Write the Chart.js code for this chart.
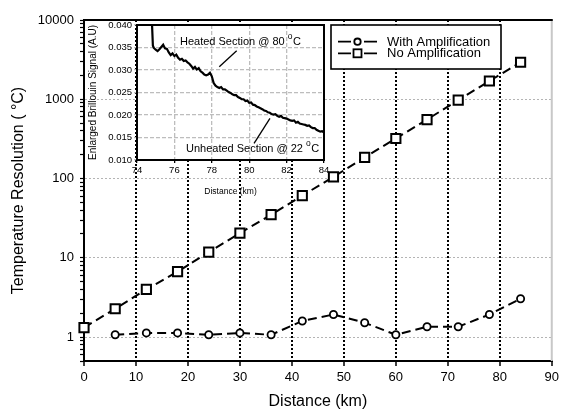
<!DOCTYPE html>
<html><head><meta charset="utf-8">
<script src="https://cdn.jsdelivr.net/npm/chart.js@4.4.0/dist/chart.umd.min.js"></script>
<style>
html,body{margin:0;padding:0;background:#fff;}
#wrap{position:relative;width:563px;height:411px;overflow:hidden;}
#wrap canvas{position:absolute;left:0;top:0;}
</style></head><body>
<div id="wrap"><canvas id="main" width="563" height="411"></canvas><canvas id="inset" width="563" height="411"></canvas></div>
<script>
// ---------------- data ----------------
const distanceKm = [0, 6, 12, 18, 24, 30, 36, 42, 48, 54, 60, 66, 72, 78, 84];
const noAmplification = [1.32, 2.28, 4.0, 6.7, 11.8, 20.5, 35, 61, 105, 185, 320, 555, 975, 1700, 2930];
const withAmpDistanceKm = [6, 12, 18, 24, 30, 36, 42, 48, 54, 60, 66, 72, 78, 84];
const withAmplification = [1.07, 1.13, 1.13, 1.07, 1.13, 1.07, 1.6, 1.93, 1.52, 1.07, 1.35, 1.35, 1.93, 3.05];
const seriesLabels = ['With Amplification', 'No Amplification'];
const xTickValues = [0, 10, 20, 30, 40, 50, 60, 70, 80, 90];
const yMajorTicks = [1, 10, 100, 1000, 10000];

const insetDistanceKm = [74.78, 74.85, 74.9, 75.0, 75.1, 75.2, 75.3, 75.4, 75.5, 75.6, 75.7, 75.8, 75.9,
  76.0, 76.1, 76.2, 76.3, 76.4, 76.5, 76.6, 76.7, 76.8, 76.9,
  77.0, 77.1, 77.2, 77.3, 77.4, 77.5, 77.6, 77.7, 77.8, 77.9,
  78.0, 78.1, 78.2, 78.3, 78.4, 78.5, 78.6, 78.7, 78.8, 78.9,
  79.0, 79.1, 79.2, 79.3, 79.4, 79.5, 79.6, 79.7, 79.8, 79.9,
  80.0, 80.1, 80.2, 80.3, 80.4, 80.5, 80.6, 80.7, 80.8, 80.9,
  81.0, 81.1, 81.2, 81.3, 81.4, 81.5, 81.6, 81.7, 81.8, 81.9,
  82.0, 82.1, 82.2, 82.3, 82.4, 82.5, 82.6, 82.7, 82.8, 82.9,
  83.0, 83.1, 83.2, 83.3, 83.4, 83.5, 83.6, 83.7, 83.8, 83.9, 84.0];
const insetSignal = [0.0425, 0.0354, 0.0349, 0.0345, 0.0342, 0.0346, 0.0351, 0.0356, 0.0348, 0.0347, 0.0339, 0.0333, 0.0337,
  0.0331, 0.0334, 0.0327, 0.0323, 0.0325, 0.0320, 0.0321, 0.0317, 0.0314, 0.0309,
  0.0303, 0.0307, 0.0301, 0.0304, 0.0297, 0.0294, 0.0290, 0.0288, 0.0290, 0.0294,
  0.0286, 0.0271, 0.0265, 0.0262, 0.0260, 0.0262, 0.0257, 0.0257, 0.0254, 0.0251,
  0.0249, 0.0246, 0.0244, 0.0244, 0.0240, 0.0238, 0.0235, 0.0235, 0.0231, 0.0232,
  0.0227, 0.0228, 0.0223, 0.0222, 0.0219, 0.0217, 0.0215, 0.0213, 0.0210, 0.0209,
  0.0206, 0.0205, 0.0202, 0.0201, 0.0202, 0.0198, 0.0196, 0.0198, 0.0194, 0.0193,
  0.0192, 0.0190, 0.0188, 0.0187, 0.0188, 0.0183, 0.0185, 0.0181, 0.0180, 0.0179,
  0.0178, 0.0176, 0.0177, 0.0173, 0.0171, 0.0171, 0.0167, 0.0165, 0.0163, 0.0164, 0.0161];
const insetXTicks = [74, 76, 78, 80, 82, 84];
const insetYTicks = [0.010, 0.015, 0.020, 0.025, 0.030, 0.035, 0.040];
const insetNotes = [
  {text: 'Heated Section @ 80 ', sup: 'o', tail: 'C', x: 76.3, y: 0.0362, line: [79.33, 0.0343, 78.4, 0.0307]},
  {text: 'Unheated Section @ 22 ', sup: 'o', tail: 'C', x: 76.62, y: 0.01244, line: [81.11, 0.01927, 80.26, 0.01371]}
];

// ---------------- styling ----------------
const FONT = "'Liberation Sans', Arial, Helvetica, sans-serif";
Chart.defaults.font.family = FONT;
Chart.defaults.color = '#000';

const logMinorTicks = [];
[0.1, 1, 10, 100, 1000].forEach(d => { for (let m = 1; m <= 9; m++) { const v = +(d * m).toPrecision(3); if (v >= 0.5 && v <= 10000) logMinorTicks.push(v); } });
logMinorTicks.push(10000);

const frameMain = {
  id: 'frameMain',
  afterDraw(chart) {
    const {ctx, chartArea: a} = chart;
    ctx.save();
    ctx.strokeStyle = '#c8c8c8'; ctx.lineWidth = 2;
    ctx.beginPath(); ctx.moveTo(a.right, a.top); ctx.lineTo(a.right, a.bottom); ctx.stroke();
    ctx.strokeStyle = '#000'; ctx.lineWidth = 2;
    ctx.beginPath(); ctx.moveTo(a.left - 1, a.top); ctx.lineTo(a.right + 1, a.top); ctx.stroke();
    // legend
    const bx = 331, by = 25, bw = 170, bh = 44;
    ctx.fillStyle = '#fff'; ctx.fillRect(bx, by, bw, bh);
    ctx.lineWidth = 1.6; ctx.strokeRect(bx, by, bw, bh);
    ctx.font = '13px ' + FONT; ctx.textBaseline = 'middle'; ctx.textAlign = 'left'; ctx.fillStyle = '#000';
    chart.data.datasets.forEach((ds, i) => {
      const y = 41.7 + i * 11.6;
      ctx.lineWidth = 1.8; ctx.strokeStyle = '#000';
      ctx.beginPath(); ctx.moveTo(338, y); ctx.lineTo(351, y); ctx.moveTo(364, y); ctx.lineTo(377, y); ctx.stroke();
      ctx.fillStyle = '#fff';
      if (ds.pointStyle === 'rect') {
        ctx.fillRect(353.5, y - 4, 8, 8); ctx.strokeRect(353.5, y - 4, 8, 8);
      } else {
        ctx.beginPath(); ctx.arc(357.5, y, 3.2, 0, Math.PI * 2); ctx.fill(); ctx.stroke();
      }
      ctx.fillStyle = '#000';
      ctx.fillText(ds.label, 387, y + 0.5);
    });
    ctx.restore();
  }
};

new Chart(document.getElementById('main'), {
  type: 'line',
  data: {
    datasets: [
      {label: seriesLabels[0], data: withAmpDistanceKm.map((x, i) => ({x, y: withAmplification[i]})),
       borderColor: '#000', borderWidth: 2, borderDash: [9, 5], pointStyle: 'circle', pointRadius: 3.6,
       pointBorderWidth: 1.8, pointBackgroundColor: '#fff', pointBorderColor: '#000', tension: 0, clip: false},
      {label: seriesLabels[1], data: distanceKm.map((x, i) => ({x, y: noAmplification[i]})),
       borderColor: '#000', borderWidth: 2, borderDash: [9, 5], pointStyle: 'rect', pointRadius: 6.5,
       pointBorderWidth: 2, pointBackgroundColor: '#fff', pointBorderColor: '#000', tension: 0, clip: false}
    ]
  },
  options: {
    responsive: false, animation: false, devicePixelRatio: 1,
    layout: {padding: {left: 0, top: 20, right: 7, bottom: 0}},
    plugins: {legend: {display: false}, tooltip: {enabled: false}},
    scales: {
      x: {
        type: 'linear', min: 0, max: 90,
        afterBuildTicks: s => { s.ticks = xTickValues.map(v => ({value: v})); },
        afterFit: s => { s.height = 50; },
        ticks: {font: {size: 13}, padding: 4, maxRotation: 0, autoSkip: false, color: '#000'},
        grid: {color: c => (c.tick && c.tick.value > 0 && c.tick.value < 90) ? '#000' : 'rgba(0,0,0,0)',
               lineWidth: 2, tickColor: '#000', tickLength: 5, tickWidth: 1.5, tickBorderDash: []},
        border: {color: '#000', width: 2, dash: [2, 2]},
        title: {display: true, text: 'Distance (km)', font: {size: 16}, padding: {top: 0, bottom: 0}, color: '#000'}
      },
      y: {
        type: 'logarithmic', min: 0.5, max: 10000,
        afterBuildTicks: s => { s.ticks = logMinorTicks.map(v => ({value: v, major: yMajorTicks.includes(v)})); },
        afterFit: s => { s.width = 84; },
        ticks: {font: {size: 13}, padding: 6, autoSkip: false, color: '#000',
                callback: v => yMajorTicks.includes(v) ? String(v) : ''},
        grid: {color: c => (c.tick && yMajorTicks.includes(c.tick.value)) ? '#b4b4b4' : 'rgba(0,0,0,0)',
               lineWidth: 1, tickColor: '#000', tickLength: 4, tickWidth: 1.2, tickBorderDash: []},
        border: {color: '#000', width: 2, dash: [2, 2]},
        title: {display: true, text: 'Temperature Resolution ( °C)', font: {size: 16}, padding: {top: 8.5, bottom: 0}, color: '#000'}
      }
    }
  },
  plugins: [frameMain]
});

// ---------------- inset ----------------
const insetFrame = {
  id: 'insetFrame',
  beforeDraw(chart) {
    const {ctx, chartArea: a} = chart;
    ctx.save(); ctx.fillStyle = '#fff'; ctx.fillRect(a.left, a.top, a.right - a.left, a.bottom - a.top); ctx.restore();
  },
  afterDraw(chart) {
    const {ctx, chartArea: a, scales: {x, y}} = chart;
    ctx.save();
    ctx.strokeStyle = '#000'; ctx.lineWidth = 2;
    ctx.beginPath(); ctx.moveTo(a.left - 1, a.top); ctx.lineTo(a.right, a.top); ctx.lineTo(a.right, a.bottom + 1); ctx.stroke();
    ctx.fillStyle = '#000'; ctx.textBaseline = 'middle'; ctx.textAlign = 'left';
    insetNotes.forEach(n => {
      let px = x.getPixelForValue(n.x); const py = y.getPixelForValue(n.y);
      ctx.font = '11px ' + FONT; ctx.fillText(n.text, px, py); px += ctx.measureText(n.text).width;
      ctx.font = '8.5px ' + FONT; ctx.fillText(n.sup, px, py - 5); px += ctx.measureText(n.sup).width + 0.5;
      ctx.font = '11px ' + FONT; ctx.fillText(n.tail, px, py);
      ctx.lineWidth = 1.3; ctx.beginPath();
      ctx.moveTo(x.getPixelForValue(n.line[0]), y.getPixelForValue(n.line[1]));
      ctx.lineTo(x.getPixelForValue(n.line[2]), y.getPixelForValue(n.line[3])); ctx.stroke();
    });
    ctx.restore();
  }
};

new Chart(document.getElementById('inset'), {
  type: 'line',
  data: {datasets: [{data: insetDistanceKm.map((x, i) => ({x, y: insetSignal[i]})), borderColor: '#000', borderWidth: 2.2,
    pointRadius: 0, tension: 0, clip: 1}]},
  options: {
    responsive: false, animation: false, devicePixelRatio: 1,
    layout: {padding: {left: 85, top: 25, right: 239, bottom: 211}},
    plugins: {legend: {display: false}, tooltip: {enabled: false}},
    scales: {
      x: {
        type: 'linear', min: 74, max: 84,
        afterBuildTicks: s => { s.ticks = insetXTicks.map(v => ({value: v})); },
        afterFit: s => { s.height = 40; },
        ticks: {font: {size: 9.5}, padding: 2, maxRotation: 0, autoSkip: false, color: '#000'},
        grid: {color: '#bdbdbd', lineWidth: 1.3, tickLength: 3, tickColor: '#000', tickBorderDash: []},
        border: {color: '#000', width: 2, dash: [4, 2]},
        title: {display: true, text: 'Distance (km)', font: {size: 8.5}, padding: {top: 0, bottom: 3}, color: '#000'}
      },
      y: {
        type: 'linear', min: 0.010, max: 0.040,
        afterBuildTicks: s => { s.ticks = insetYTicks.map(v => ({value: v})); },
        afterFit: s => { s.width = 52; },
        ticks: {font: {size: 9.5}, padding: 2, autoSkip: false, color: '#000', callback: v => Number(v).toFixed(3)},
        grid: {color: '#bdbdbd', lineWidth: 1.3, tickLength: 3, tickColor: '#bdbdbd'},
        border: {color: '#000', width: 2, dash: [4, 2]},
        title: {display: true, text: 'Enlarged Brillouin Signal (A.U)', font: {size: 10}, padding: {top: 2.5, bottom: 0}, color: '#000'}
      }
    }
  },
  plugins: [insetFrame]
});
</script>
</body></html>
